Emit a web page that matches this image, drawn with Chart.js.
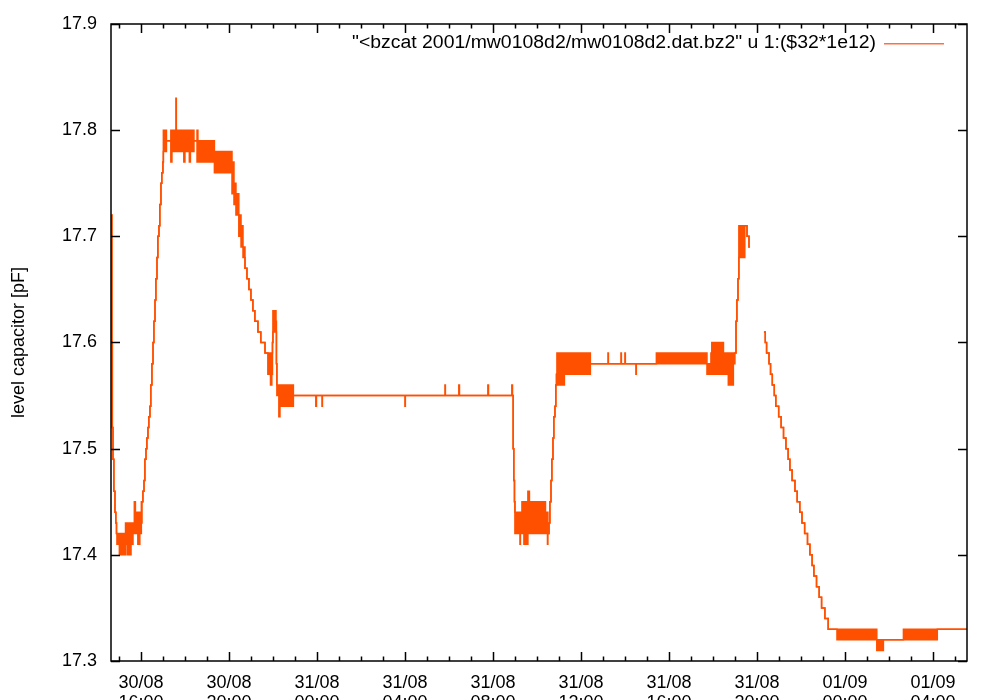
<!DOCTYPE html>
<html>
<head>
<meta charset="utf-8">
<title>level capacitor</title>
<script src="https://cdn.jsdelivr.net/npm/chart.js@4"></script>
<style>
  html, body { margin: 0; padding: 0; background: #fff; }
</style>
</head>
<body>
<canvas id="chart" width="1000" height="700"></canvas>
<script>
// --- data (x in hours since 30/08 00:00, y in pF) ---
// each sample = low/high envelope of the noisy trace from that time on; equal values = plain line
const hours = [
  14.66, 14.68, 14.70, 14.73, 14.77, 14.82, 14.86, 14.89,
  14.91, 15.02, 15.30, 15.38, 15.55, 15.64, 15.70, 15.75, 15.86, 15.95, 16.02,
  16.05, 16.09, 16.14, 16.18, 16.23, 16.27, 16.32, 16.36, 16.41, 16.45, 16.50, 16.55, 16.59, 16.64, 16.68, 16.73, 16.77, 16.82, 16.86, 16.91, 16.95, 17.00,
  17.02, 17.16, 17.36, 17.41, 17.59, 17.61, 17.95, 18.00, 18.20, 18.25, 18.41, 18.55, 18.59, 19.34,
  20.14, 20.23, 20.32, 20.45, 20.55, 20.64, 20.73, 20.82, 20.91, 21.00, 21.09, 21.18, 21.32, 21.45, 21.64,
  21.77, 21.89, 21.95, 21.98, 22.00, 22.14, 22.16, 22.18, 22.27, 22.32, 22.93,
  23.95, 23.98, 24.23, 24.25, 28.00, 28.02, 29.82, 29.84, 30.45, 30.48, 31.77, 31.80, 32.86, 32.89,
  32.92, 32.95, 32.98,
  33.00, 33.23, 33.25, 33.32, 33.41, 33.59, 33.66, 34.39, 34.48,
  34.50, 34.55, 34.59, 34.64, 34.68, 34.73, 34.77, 34.82, 34.86, 34.89,
  34.91, 35.25, 36.43, 37.23, 37.25, 37.82, 37.84, 38.00, 38.02, 38.50, 38.52, 39.43, 41.73, 41.91, 41.95, 42.48, 42.70, 42.93,
  43.00, 43.05, 43.09, 43.14, 43.18, 43.45, 43.55, 43.64, 43.68, 43.90,
  44.32, 44.38, 44.44, 44.55, 44.62, 44.70, 44.79, 44.86, 44.99, 45.10, 45.21, 45.32, 45.42, 45.50, 45.60,
  45.73, 45.83, 45.95, 46.05, 46.17, 46.30, 46.41, 46.51, 46.59, 46.71, 46.83, 46.94, 47.09, 47.24,
  47.64, 49.45, 49.75, 50.66, 52.20, 53.55
];
const lowPF = [
  17.72, 17.60, 17.52, 17.49, 17.46, 17.44, 17.43, 17.42,
  17.41, 17.40, 17.41, 17.40, 17.41, 17.42, 17.42, 17.42, 17.41, 17.42, 17.43,
  17.45, 17.46, 17.47, 17.49, 17.50, 17.51, 17.52, 17.53, 17.54, 17.56, 17.58, 17.60, 17.62, 17.64, 17.66, 17.68, 17.70, 17.71, 17.73, 17.75, 17.76, 17.77,
  17.78, 17.79, 17.77, 17.78, 17.78, 17.78, 17.77, 17.78, 17.77, 17.78, 17.79, 17.77, 17.77, 17.76,
  17.74, 17.73, 17.72, 17.70, 17.69, 17.68, 17.67, 17.66, 17.65, 17.64, 17.63, 17.62, 17.61, 17.60, 17.59,
  17.57, 17.56, 17.57, 17.60, 17.61, 17.61, 17.58, 17.55, 17.53, 17.54, 17.55,
  17.54, 17.55, 17.54, 17.55, 17.54, 17.55, 17.55, 17.55, 17.55, 17.55, 17.55, 17.55, 17.55, 17.55,
  17.50, 17.47, 17.45,
  17.42, 17.41, 17.42, 17.42, 17.41, 17.42, 17.42, 17.42, 17.41,
  17.42, 17.43, 17.45, 17.47, 17.49, 17.51, 17.53, 17.54, 17.56, 17.57,
  17.56, 17.57, 17.58, 17.58, 17.58, 17.58, 17.58, 17.58, 17.58, 17.57, 17.58, 17.58, 17.57, 17.58, 17.57, 17.57, 17.56, 17.58,
  17.59, 17.62, 17.64, 17.66, 17.68, 17.71, 17.70, 17.69, 17.69, null,
  17.61, 17.60, 17.59, 17.58, 17.57, 17.56, 17.55, 17.54, 17.53, 17.52, 17.51, 17.50, 17.49, 17.48, 17.47,
  17.46, 17.45, 17.44, 17.43, 17.42, 17.41, 17.40, 17.39, 17.38, 17.37, 17.36, 17.35, 17.34, 17.33,
  17.32, 17.31, 17.32, 17.32, 17.33, 17.33
];
const highPF = [
  17.72, 17.60, 17.52, 17.49, 17.46, 17.44, 17.43, 17.42,
  17.42, 17.42, 17.43, 17.43, 17.43, 17.43, 17.45, 17.44, 17.44, 17.44, 17.45,
  17.45, 17.46, 17.47, 17.49, 17.50, 17.51, 17.52, 17.53, 17.54, 17.56, 17.58, 17.60, 17.62, 17.64, 17.66, 17.68, 17.70, 17.71, 17.73, 17.75, 17.76, 17.77,
  17.80, 17.79, 17.80, 17.80, 17.83, 17.80, 17.80, 17.80, 17.80, 17.80, 17.79, 17.80, 17.79, 17.78,
  17.77, 17.75, 17.74, 17.72, 17.71, 17.69, 17.67, 17.66, 17.65, 17.64, 17.63, 17.62, 17.61, 17.60, 17.59,
  17.59, 17.59, 17.59, 17.60, 17.63, 17.62, 17.58, 17.56, 17.56, 17.56, 17.55,
  17.55, 17.55, 17.55, 17.55, 17.55, 17.55, 17.56, 17.55, 17.56, 17.55, 17.56, 17.55, 17.56, 17.55,
  17.50, 17.47, 17.45,
  17.44, 17.44, 17.44, 17.45, 17.45, 17.46, 17.45, 17.44, 17.44,
  17.42, 17.43, 17.45, 17.47, 17.49, 17.51, 17.53, 17.54, 17.56, 17.57,
  17.59, 17.59, 17.58, 17.59, 17.58, 17.59, 17.58, 17.59, 17.58, 17.58, 17.58, 17.59, 17.58, 17.59, 17.60, 17.59, 17.59, 17.59,
  17.59, 17.62, 17.64, 17.66, 17.71, 17.71, 17.70, 17.69, 17.69, null,
  17.61, 17.60, 17.59, 17.58, 17.57, 17.56, 17.55, 17.54, 17.53, 17.52, 17.51, 17.50, 17.49, 17.48, 17.47,
  17.46, 17.45, 17.44, 17.43, 17.42, 17.41, 17.40, 17.39, 17.38, 17.37, 17.36, 17.35, 17.34, 17.33,
  17.33, 17.32, 17.32, 17.33, 17.33, 17.33
];

// axis ticks
const majorHours = [16, 20, 24, 28, 32, 36, 40, 44, 48, 52];
const xTickLabels = [
  ['30/08', '16:00'], ['30/08', '20:00'], ['31/08', '00:00'], ['31/08', '04:00'],
  ['31/08', '08:00'], ['31/08', '12:00'], ['31/08', '16:00'], ['31/08', '20:00'],
  ['01/09', '00:00'], ['01/09', '04:00']
];
const yTicks = [17.3, 17.4, 17.5, 17.6, 17.7, 17.8, 17.9];
const X_MIN = 14.64, X_MAX = 53.55;

const legendText = '"<bzcat 2001/mw0108d2/mw0108d2.dat.bz2" u 1:($32*1e12)';
const TRACE = '#ff5000';
const FONT = "'Liberation Sans', Arial, Helvetica, sans-serif";

// gnuplot-ish frame, inward ticks and key
const gnuplotFrame = {
  id: 'gnuplotFrame',
  afterDraw(chart) {
    const { ctx, chartArea: a, scales } = chart;
    const xs = scales.x, ys = scales.y;
    ctx.save();
    ctx.strokeStyle = '#000';
    ctx.lineWidth = 1.5;
    ctx.strokeRect(a.left, a.top, a.right - a.left, a.bottom - a.top);

    ctx.beginPath();
    // x ticks (major every 4h, minor every hour), bottom and top
    for (let h = Math.ceil(X_MIN); h <= X_MAX; h++) {
      const len = majorHours.includes(h) ? 9 : 4.5;
      const px = Math.round(xs.getPixelForValue(h)) + 0.5;
      ctx.moveTo(px, a.bottom); ctx.lineTo(px, a.bottom - len);
      ctx.moveTo(px, a.top); ctx.lineTo(px, a.top + len);
    }
    // y ticks, left and right
    yTicks.forEach(v => {
      const py = Math.round(ys.getPixelForValue(v)) + 0.5;
      ctx.moveTo(a.left, py); ctx.lineTo(a.left + 9, py);
      ctx.moveTo(a.right, py); ctx.lineTo(a.right - 9, py);
    });
    ctx.stroke();

    // key: text first, then the sample line
    ctx.font = '18px ' + FONT;
    ctx.fillStyle = '#000';
    ctx.textBaseline = 'middle';
    ctx.textAlign = 'right';
    const w = ctx.measureText(legendText).width;
    const k = Math.min(1.15, 524 / w);
    ctx.translate(876, 43);
    ctx.scale(k, 1);
    ctx.fillText(legendText, 0, 0);
    ctx.setTransform(1, 0, 0, 1, 0, 0);
    ctx.fillStyle = '#ff7040';
    ctx.fillRect(884, 43, 60, 1.5);
    ctx.restore();
  }
};

const tickFont = { family: FONT, size: 18, lineHeight: 1.1 };

new Chart(document.getElementById('chart').getContext('2d'), {
  type: 'line',
  data: {
    datasets: [
      {
        label: 'high',
        data: hours.map((h, i) => ({ x: h, y: highPF[i] })),
        borderColor: TRACE,
        borderWidth: 1.5,
        pointRadius: 0,
        stepped: 'before',
        fill: false,
        spanGaps: false
      },
      {
        label: 'low',
        data: hours.map((h, i) => ({ x: h, y: lowPF[i] })),
        borderColor: TRACE,
        backgroundColor: TRACE,
        borderWidth: 1.5,
        pointRadius: 0,
        stepped: 'before',
        fill: '-1',
        spanGaps: false
      }
    ]
  },
  options: {
    responsive: false,
    animation: false,
    layout: { padding: { top: 24, right: 33, left: 0, bottom: 0 } },
    plugins: {
      legend: { display: false },
      tooltip: { enabled: false }
    },
    scales: {
      x: {
        type: 'linear',
        min: X_MIN,
        max: X_MAX,
        grid: { display: false, drawTicks: false },
        border: { display: false },
        afterBuildTicks: s => { s.ticks = majorHours.map(v => ({ value: v })); },
        afterFit: s => { s.height = 39; },
        ticks: {
          autoSkip: false,
          maxRotation: 0,
          padding: 12,
          color: '#000',
          font: tickFont,
          callback: v => xTickLabels[majorHours.indexOf(v)]
        }
      },
      y: {
        min: 17.3,
        max: 17.9,
        grid: { display: false, drawTicks: false },
        border: { display: false },
        afterBuildTicks: s => { s.ticks = yTicks.map(v => ({ value: v })); },
        afterFit: s => { s.width = 111; },
        ticks: {
          padding: 14,
          color: '#000',
          font: tickFont,
          callback: v => v.toFixed(1)
        },
        title: {
          display: true,
          text: 'level capacitor [pF]',
          color: '#000',
          font: { family: FONT, size: 18 },
          padding: { top: 8, bottom: 0 }
        }
      }
    }
  },
  plugins: [gnuplotFrame]
});
</script>
</body>
</html>
